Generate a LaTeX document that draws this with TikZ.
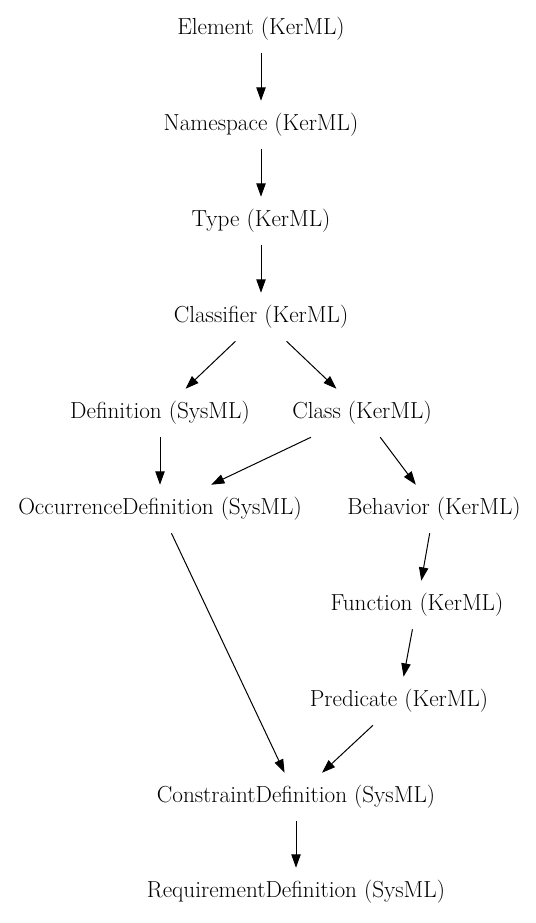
\documentclass[tikz,border=0pt]{standalone}
\usetikzlibrary{arrows.meta}
\begin{document}
\begin{tikzpicture}[x=0.75pt,y=-0.75pt,
  cls/.style={rectangle,minimum height=36pt,inner xsep=6pt,inner ysep=0pt,font=\fontsize{17.4}{20}\selectfont},
  inh/.style={-{Triangle[length=10pt,width=7pt]},line width=0.75pt}]
\useasboundingbox (0,0) rectangle (535,923);
\node[cls] (el) at (261,29) {Element (KerML)};
\node[cls] (ns) at (261,125) {Namespace (KerML)};
\node[cls] (ty) at (261,221) {Type (KerML)};
\node[cls] (cf) at (261,317) {Classifier (KerML)};
\node[cls] (de) at (160,413) {Definition (SysML)};
\node[cls] (cl) at (362,413) {Class (KerML)};
\node[cls] (od) at (160,509) {OccurrenceDefinition (SysML)};
\node[cls] (be) at (434,509) {Behavior (KerML)};
\node[cls] (fu) at (417,605) {Function (KerML)};
\node[cls] (pr) at (399,701) {Predicate (KerML)};
\node[cls] (cd) at (296,797) {ConstraintDefinition (SysML)};
\node[cls] (rd) at (296,892) {RequirementDefinition (SysML)};
\draw[inh] (el) -- (ns);
\draw[inh] (ns) -- (ty);
\draw[inh] (ty) -- (cf);
\draw[inh] (cf) -- (de);
\draw[inh] (cf) -- (cl);
\draw[inh] (de) -- (od);
\draw[inh] (cl) -- (od);
\draw[inh] (cl) -- (be);
\draw[inh] (be) -- (fu);
\draw[inh] (fu) -- (pr);
\draw[inh] (pr) -- (cd);
\draw[inh] (od) -- (cd);
\draw[inh] (cd) -- (rd);
\end{tikzpicture}
\end{document}
